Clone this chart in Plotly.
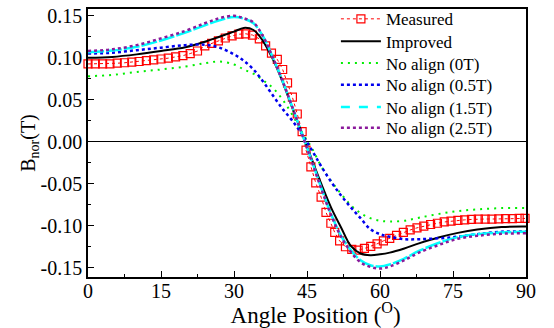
import plotly.graph_objects as go

# ---------------- data ----------------
angle = [0, 5, 10, 15, 20, 24, 27, 30, 32, 34, 36, 38, 40, 42, 44, 46, 48, 50,
         52, 54, 56, 58, 60, 62, 65, 68, 72, 76, 80, 85, 90]

improved = [0.100, 0.101, 0.104, 0.108, 0.1125, 0.119, 0.125, 0.131, 0.1355, 0.133,
            0.1195, 0.098, 0.071, 0.040, 0.0095, -0.021, -0.051, -0.079,
            -0.102, -0.124, -0.133, -0.135, -0.134, -0.132, -0.127, -0.121,
            -0.114, -0.1085, -0.1045, -0.1015, -0.101]

no_align_0T = [0.078, 0.0795, 0.083, 0.086, 0.0895, 0.0935, 0.0955, 0.092, 0.086, 0.081,
               0.073, 0.064, 0.050, 0.032, 0.011, -0.0075, -0.030, -0.047,
               -0.062, -0.0755, -0.085, -0.091, -0.094, -0.095, -0.094, -0.0905,
               -0.086, -0.0825, -0.0805, -0.079, -0.079]

no_align_05T = [0.105, 0.106, 0.109, 0.112, 0.115, 0.1155, 0.112, 0.104, 0.0965, 0.086,
                0.0715, 0.055, 0.039, 0.025, 0.0085, -0.010, -0.030, -0.048,
                -0.064, -0.078, -0.091, -0.104, -0.110, -0.113, -0.116, -0.116,
                -0.115, -0.113, -0.110, -0.107, -0.107]

no_align_15T = [0.1065, 0.1085, 0.113, 0.1205, 0.130, 0.1385, 0.1445, 0.1485, 0.1465, 0.141,
                0.125, 0.100, 0.072, 0.041, 0.009, -0.023, -0.056, -0.087,
                -0.112, -0.129, -0.141, -0.147, -0.1485, -0.146, -0.139, -0.130,
                -0.1205, -0.1135, -0.110, -0.108, -0.107]

no_align_25T = [0.108, 0.110, 0.115, 0.123, 0.132, 0.141, 0.147, 0.150, 0.147, 0.142,
                0.125, 0.100, 0.072, 0.041, 0.0085, -0.024, -0.057, -0.088,
                -0.113, -0.131, -0.1435, -0.149, -0.151, -0.1485, -0.141, -0.132,
                -0.123, -0.1155, -0.112, -0.1095, -0.109]

measured_angle = [0, 1.5, 3, 4.5, 6, 7.5, 9, 10.5, 12, 13.5, 15, 16.5, 18, 19.5, 21, 22.5,
                  24.0, 25.4, 26.8, 28.2, 29.6, 31.0, 32.4, 33.8, 35.2, 36.5, 37.7, 38.9,
                  40.0, 41.0, 42.0, 43.0, 44.0, 44.8, 45.8, 46.8, 47.9, 48.9, 49.9, 50.7,
                  51.7, 52.9, 54.2, 55.5, 56.8, 58.1, 59.4, 60.7, 62.0, 63.4, 64.8, 66.2,
                  67.6, 69.0, 70.4, 71.8, 73.2, 74.6, 76.0, 77.4, 78.8, 80.2, 81.6, 83.0,
                  84.4, 85.8, 87.2, 88.6, 89.8]
measured = [0.0926, 0.0926, 0.0926, 0.0926, 0.0935, 0.094, 0.0948, 0.0955, 0.0965, 0.0975,
            0.0985, 0.0995, 0.101, 0.1025, 0.105, 0.108,
            0.114, 0.117, 0.120, 0.1235, 0.126, 0.128, 0.1285, 0.127, 0.1225, 0.114,
            0.1055, 0.098, 0.086, 0.070, 0.053, 0.033, 0.012, -0.010, -0.030, -0.049,
            -0.066, -0.084, -0.097, -0.108, -0.118, -0.125, -0.128, -0.129, -0.127,
            -0.1245, -0.1215, -0.118, -0.115, -0.1115, -0.108, -0.105, -0.1025, -0.1005,
            -0.0985, -0.097, -0.0955, -0.0945, -0.0935, -0.093, -0.0925, -0.092, -0.092,
            -0.092, -0.0918, -0.0915, -0.0915, -0.0913, -0.0913]

x_tickvals = [0, 15, 30, 45, 60, 75, 90]
x_ticktext = ["0", "15", "30", "45", "60", "75", "90"]
y_tickvals = [-0.15, -0.10, -0.05, 0.0, 0.05, 0.10, 0.15]
y_ticktext = ["-0.15", "-0.10", "-0.05", "0.00", "0.05", "0.10", "0.15"]

FONT = "Liberation Serif"

fig = go.Figure()

fig.add_trace(go.Scatter(
    x=measured_angle, y=measured, mode="lines+markers", name="Measured", legend="legend",
    line=dict(color="red", width=1, dash="dot"),
    marker=dict(symbol="square-open", size=8, color="red", line=dict(width=1.2, color="red")),
    cliponaxis=False))

fig.add_trace(go.Scatter(
    x=angle, y=improved, mode="lines", name="Improved", line_shape="spline", legend="legend2",
    line=dict(color="black", width=2)))

fig.add_trace(go.Scatter(
    x=angle, y=no_align_0T, mode="lines", name="No align (0T)", line_shape="spline",
    legend="legend3",
    line=dict(color="#00ee00", width=2, dash="2px,5px")))

fig.add_trace(go.Scatter(
    x=angle, y=no_align_05T, mode="lines", name="No align (0.5T)", line_shape="spline",
    legend="legend4",
    line=dict(color="#0000ee", width=2.5, dash="3px,3px")))

fig.add_trace(go.Scatter(
    x=angle, y=no_align_15T, mode="lines", name="No align (1.5T)", line_shape="spline",
    showlegend=False, legendgroup="c15", legend="legend5",
    line=dict(color="cyan", width=2.5, dash="16px,2px")))

fig.add_trace(go.Scatter(
    x=[None], y=[None], mode="lines", name="No align (1.5T)", legendgroup="c15",
    legend="legend5",
    line=dict(color="cyan", width=2.5, dash="9px,9px")))

fig.add_trace(go.Scatter(
    x=angle, y=no_align_25T, mode="lines", name="No align (2.5T)", line_shape="spline",
    legend="legend6",
    line=dict(color="#8b1a9b", width=2.5, dash="3px,3px")))


def legend_box(ypos):
    return dict(x=0.566, y=ypos, xanchor="left", yanchor="middle",
                bgcolor="rgba(0,0,0,0)", borderwidth=0,
                font=dict(family=FONT, size=17, color="black"),
                itemwidth=40, tracegroupgap=0)


fig.update_layout(
    width=554, height=328,
    margin=dict(l=88, r=28, t=9, b=51, pad=0, autoexpand=False),
    paper_bgcolor="white", plot_bgcolor="white",
    font=dict(family=FONT, size=20, color="black"),
    showlegend=True,
    legend=legend_box(0.9616),
    legend2=legend_box(0.878),
    legend3=legend_box(0.797),
    legend4=legend_box(0.716),
    legend5=legend_box(0.633),
    legend6=legend_box(0.555),
    xaxis=dict(range=[0, 90], tickmode="array", tickvals=x_tickvals, ticktext=x_ticktext,
               ticks="inside", ticklen=6, tickwidth=1.2, tickcolor="black",
               minor=dict(ticks="inside", ticklen=3, tickwidth=1.2, tickcolor="black",
                          tickmode="linear", tick0=0, dtick=7.5),
               showline=True, linecolor="black", linewidth=1.5, mirror=True,
               showgrid=False, zeroline=False, automargin=False,
               ticklabelstandoff=-5,
               tickfont=dict(family=FONT, size=20),
               title=dict(text="&nbsp;&nbsp;&nbsp;Angle Position (<sup>O</sup>)",
                          font=dict(family=FONT, size=23), standoff=9)),
    yaxis=dict(range=[-0.161, 0.158], tickmode="array", tickvals=y_tickvals, ticktext=y_ticktext,
               ticks="inside", ticklen=6, tickwidth=1.2, tickcolor="black",
               minor=dict(ticks="inside", ticklen=3, tickwidth=1.2, tickcolor="black",
                          tickmode="linear", tick0=0, dtick=0.025),
               showline=True, linecolor="black", linewidth=1.5, mirror=True,
               showgrid=False, zeroline=True, zerolinecolor="black", zerolinewidth=1.2,
               automargin=False,
               tickfont=dict(family=FONT, size=20),
               title=dict(text="B<sub>nor</sub>(T)", font=dict(family=FONT, size=20), standoff=0)),
)

fig.write_html("out.html", config={"displayModeBar": False},
               post_script="document.body.style.margin='0';")
